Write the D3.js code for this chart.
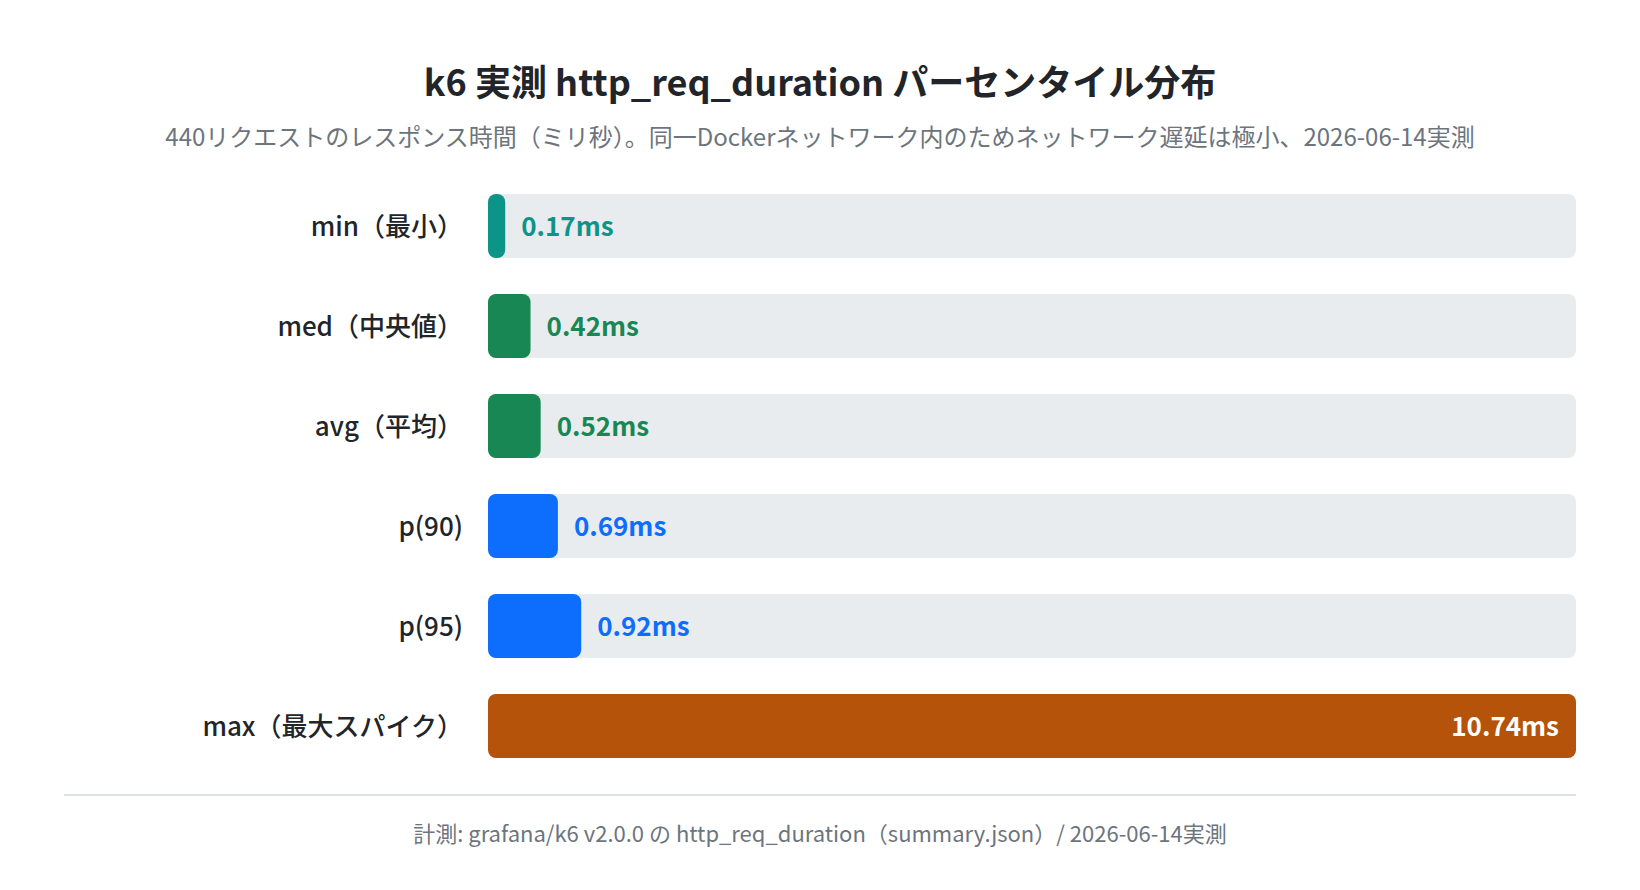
<!DOCTYPE html>
<html lang="ja">
<head>
<meta charset="utf-8">
<title>k6 実測 http_req_duration パーセンタイル分布</title>
<script src="https://cdn.jsdelivr.net/npm/d3@7"></script>
<style>
  html, body { margin: 0; padding: 0; background: #fff; }
  svg { display: block; font-family: "Noto Sans CJK JP", "Noto Sans", sans-serif; }
</style>
</head>
<body>
<div id="chart"></div>
<script>
// data
const categories = ['min（最小）', 'med（中央値）', 'avg（平均）', 'p(90)', 'p(95)', 'max（最大スパイク）']
const durations = [0.17, 0.42, 0.52, 0.69, 0.92, 10.74]

const titleText = 'k6 実測 http_req_duration パーセンタイル分布'
const subtitleText = '440リクエストのレスポンス時間（ミリ秒）。同一Dockerネットワーク内のためネットワーク遅延は極小、2026-06-14実測'
const footerText = '計測: grafana/k6 v2.0.0 の http_req_duration（summary.json）/ 2026-06-14実測'

const data = categories.map(function(c, i) { return { name: c, value: durations[i] } })

// chart dimensions
const W = 1640
const H = 890
const trackLeft = 488
const trackRight = 1576

const color = d3.scaleOrdinal()
  .domain(categories)
  .range(['#0d9488', '#198754', '#198754', '#0d6efd', '#0d6efd', '#b45309'])

// map ms to bar width, the longest bar fills the track
const xScale = d3.scaleLinear()
  .domain([0, d3.max(durations)])
  .range([0, trackRight - trackLeft])

const yScale = d3.scaleBand()
  .domain(categories)
  .range([176, 776])
  .paddingInner(0.36)
  .paddingOuter(0.18)

const fmt = d3.format('.2f')

const svg = d3.select('#chart')
  .append('svg')
  .attr('width', W)
  .attr('height', H)

svg.append('text')
  .attr('x', W / 2)
  .attr('y', 96)
  .attr('text-anchor', 'middle')
  .attr('font-size', 36)
  .attr('font-weight', 700)
  .attr('fill', '#212529')
  .text(titleText)

svg.append('text')
  .attr('x', W / 2)
  .attr('y', 146)
  .attr('text-anchor', 'middle')
  .attr('font-size', 24)
  .attr('fill', '#6c757d')
  .text(subtitleText)

const rows = svg.append('g')
  .selectAll('g')
  .data(data)
  .join('g')
    .attr('transform', function(d) { return `translate(0, ${yScale(d.name)})` })

// grey track behind each bar
rows.append('rect')
  .attr('x', trackLeft)
  .attr('width', trackRight - trackLeft)
  .attr('height', yScale.bandwidth())
  .attr('rx', 8)
  .attr('fill', '#e9ecef')

rows.append('rect')
  .attr('x', trackLeft)
  .attr('width', function(d) { return xScale(d.value) })
  .attr('height', yScale.bandwidth())
  .attr('rx', 8)
  .attr('fill', function(d) { return color(d.name) })

// category labels
rows.append('text')
  .attr('x', trackLeft - 25)
  .attr('y', yScale.bandwidth() / 2)
  .attr('dy', '0.4em')
  .attr('text-anchor', 'end')
  .attr('font-size', 26)
  .attr('font-weight', 500)
  .attr('fill', '#212529')
  .text(function(d) { return d.name })

// value labels: outside the bar, or inside when the bar fills the track
rows.append('text')
  .attr('x', function(d) {
    const w = xScale(d.value)
    return w > 200 ? trackLeft + w - 17 : trackLeft + w + 16
  })
  .attr('y', yScale.bandwidth() / 2)
  .attr('dy', '0.4em')
  .attr('text-anchor', function(d) { return xScale(d.value) > 200 ? 'end' : 'start' })
  .attr('font-size', 26)
  .attr('font-weight', 700)
  .attr('fill', function(d) { return xScale(d.value) > 200 ? '#ffffff' : color(d.name) })
  .text(function(d) { return fmt(d.value) + 'ms' })

svg.append('line')
  .attr('x1', 64)
  .attr('x2', trackRight)
  .attr('y1', 795)
  .attr('y2', 795)
  .attr('stroke', '#dee2e6')
  .attr('stroke-width', 2)

svg.append('text')
  .attr('x', W / 2)
  .attr('y', 842)
  .attr('text-anchor', 'middle')
  .attr('font-size', 22)
  .attr('fill', '#6c757d')
  .text(footerText)
</script>
</body>
</html>
